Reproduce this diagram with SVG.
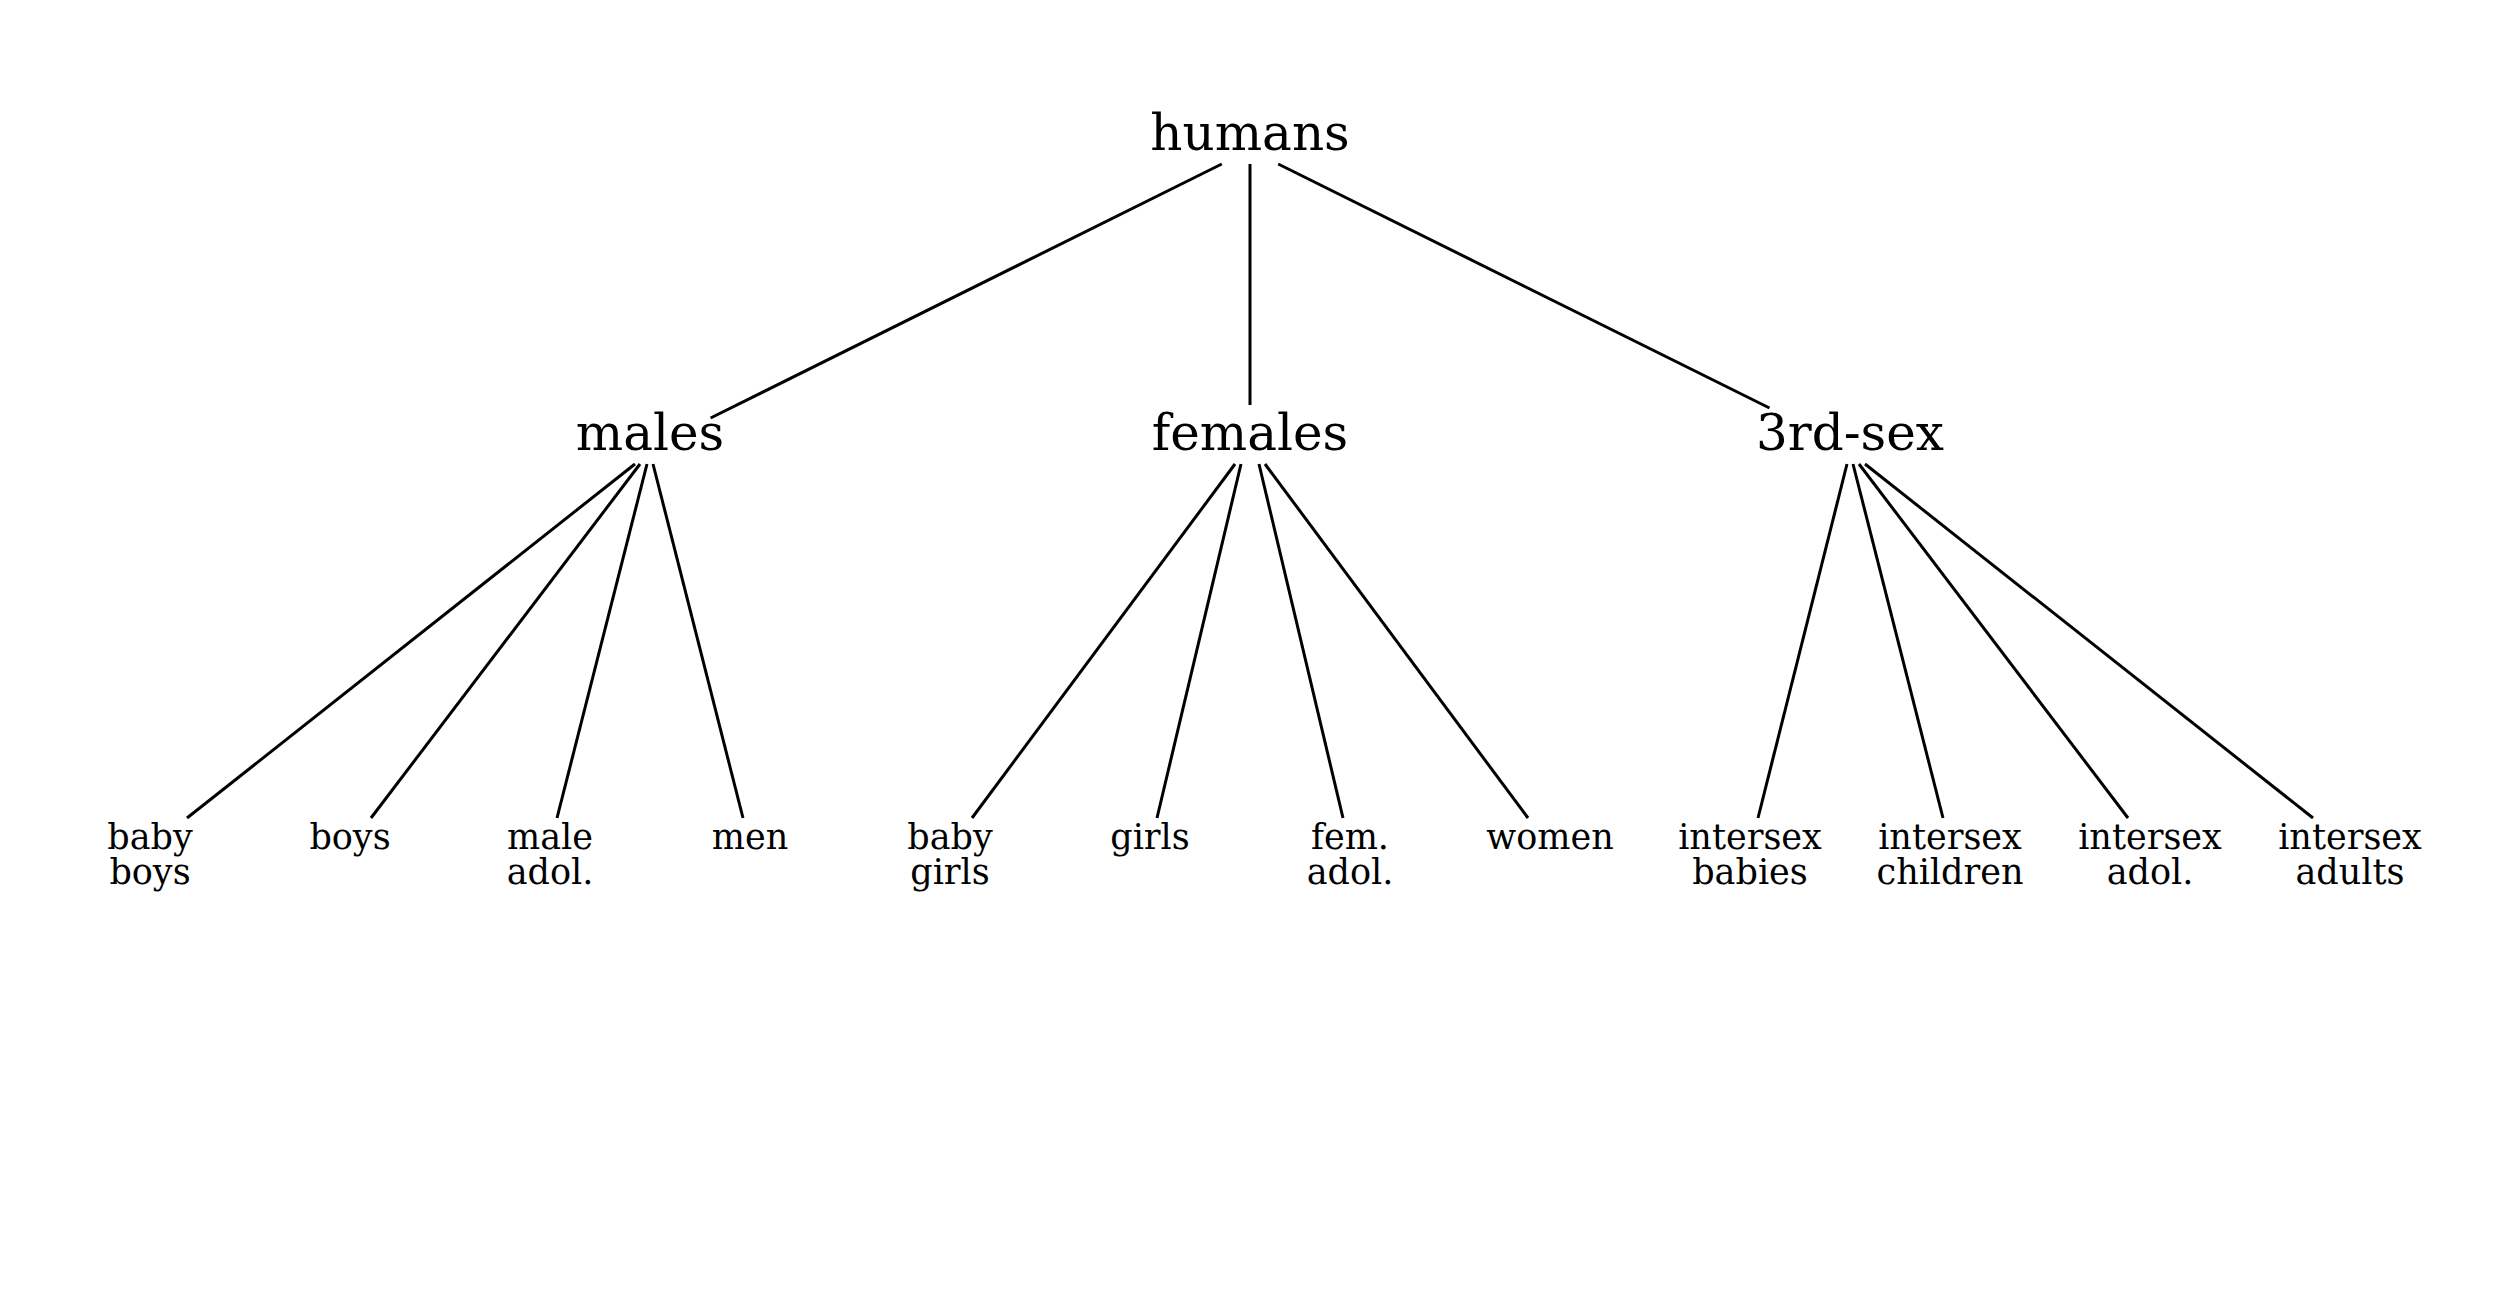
<svg xmlns="http://www.w3.org/2000/svg" width="2500" height="1300" viewBox="0 0 2500 1300">
<style>
.big{font-family:"DejaVu Serif",serif;font-size:50px;text-anchor:middle;fill:#000}
.leaf{font-family:"DejaVu Serif",serif;font-size:35px;text-anchor:middle;fill:#000}
.edges line{stroke:#000;stroke-width:3;fill:none}
</style>
<rect width="2500" height="1300" fill="#fff"/>
<g class="edges" id="connectors">
<line x1="1221.8" y1="164" x2="710.6" y2="418"/>
<line x1="1250" y1="164" x2="1250" y2="405"/>
<line x1="1278.2" y1="164" x2="1769.5" y2="408"/>
<line x1="635" y1="464" x2="187" y2="818"/>
<line x1="640" y1="464" x2="371" y2="818"/>
<line x1="647" y1="464" x2="557" y2="818"/>
<line x1="653" y1="464" x2="743" y2="818"/>
<line x1="1235" y1="464" x2="972" y2="818"/>
<line x1="1241" y1="464" x2="1157" y2="818"/>
<line x1="1259" y1="464" x2="1343" y2="818"/>
<line x1="1265" y1="464" x2="1528" y2="818"/>
<line x1="1847" y1="464" x2="1758" y2="818"/>
<line x1="1853" y1="464" x2="1943" y2="818"/>
<line x1="1859" y1="464" x2="2128" y2="818"/>
<line x1="1865" y1="464" x2="2313" y2="818"/>
</g>
<g id="humans"><text class="big" x="1250" y="150">humans</text></g>
<g id="males"><text class="big" x="650" y="450">males</text></g>
<g id="females"><text class="big" x="1250" y="450">females</text></g>
<g id="third-sex"><text class="big" x="1850" y="450">3rd-sex</text></g>
<g id="baby-boys"><text class="leaf" x="150" y="849">baby</text><text class="leaf" x="150" y="884">boys</text></g>
<g id="boys"><text class="leaf" x="350" y="849">boys</text></g>
<g id="male-adol"><text class="leaf" x="550" y="849">male</text><text class="leaf" x="550" y="884">adol.</text></g>
<g id="men"><text class="leaf" x="750" y="849">men</text></g>
<g id="baby-girls"><text class="leaf" x="950" y="849">baby</text><text class="leaf" x="950" y="884">girls</text></g>
<g id="girls"><text class="leaf" x="1150" y="849">girls</text></g>
<g id="fem-adol"><text class="leaf" x="1350" y="849">fem.</text><text class="leaf" x="1350" y="884">adol.</text></g>
<g id="women"><text class="leaf" x="1550" y="849">women</text></g>
<g id="intersex-babies"><text class="leaf" x="1750" y="849">intersex</text><text class="leaf" x="1750" y="884">babies</text></g>
<g id="intersex-children"><text class="leaf" x="1950" y="849">intersex</text><text class="leaf" x="1950" y="884">children</text></g>
<g id="intersex-adol"><text class="leaf" x="2150" y="849">intersex</text><text class="leaf" x="2150" y="884">adol.</text></g>
<g id="intersex-adults"><text class="leaf" x="2350" y="849">intersex</text><text class="leaf" x="2350" y="884">adults</text></g>
</svg>
